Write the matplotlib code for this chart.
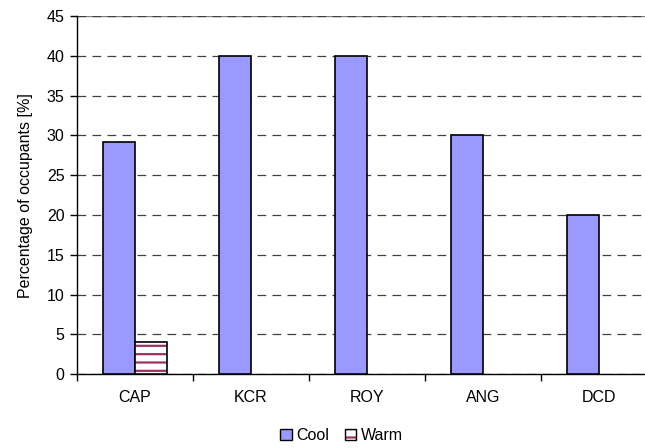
import matplotlib
matplotlib.use("Agg")
import matplotlib.pyplot as plt
import numpy as np

plt.rcParams['font.family'] = ['Liberation Sans', 'DejaVu Sans']
plt.rcParams['hatch.linewidth'] = 1.6

sites = ["CAP", "KCR", "ROY", "ANG", "DCD"]
cool = [29.2, 40, 40, 30, 20]
warm = [4.1, 0, 0, 0, 0]

fig = plt.figure(figsize=(6.45, 4.48), dpi=100)
ax = fig.add_axes([77/645, 1-374.3/448, 580/645, 358.3/448])

x = np.arange(len(sites))
w = 0.276
cool_bars = ax.bar(x - w/2, cool, w, color="#9999ff", edgecolor="black", linewidth=1.2, zorder=3)
# hatch takes the edge colour, so draw the hatch first and the black outline on top
hatched = ax.bar(x + w/2, warm, w, color="white", edgecolor="#993366", hatch="--",
                 linewidth=0, zorder=3)
outline = ax.bar(x + w/2, warm, w, fill=False, edgecolor="black", linewidth=1.2, zorder=4)
for hb, ob, v in zip(hatched, outline, warm):
    if v == 0:
        hb.set_visible(False)
        ob.set_visible(False)

ax.set_xlim(-0.5, 4.5)
ax.set_ylim(0, 45)
ax.set_yticks(range(0, 50, 5))
ax.set_xticks(np.arange(-0.5, 5.0, 1.0))
ax.set_xticklabels([])
ax.set_xticks(x, minor=True)
ax.set_xticklabels(sites, minor=True)
ax.tick_params(axis='x', which='minor', length=0, pad=11, labelsize=11.5)
ax.tick_params(axis='x', which='major', length=5, direction='out', width=1)
ax.tick_params(axis='y', length=5, direction='out', width=1, labelsize=11.5, pad=4)

ax.grid(axis='y', color='#404040', linestyle=(0, (7, 5)), linewidth=0.9, zorder=0)
ax.axhline(45, color='#808080', linewidth=1, zorder=1)
ax.spines['top'].set_visible(False)
ax.spines['right'].set_visible(False)
ax.spines['left'].set_linewidth(1)
ax.spines['bottom'].set_linewidth(1)

ax.set_ylabel("Percentage of occupants [%]", fontsize=11.5, labelpad=10)

h1 = plt.Rectangle((0, 0), 1, 1, facecolor="#9999ff", edgecolor="black")
h2a = plt.Rectangle((0, 0), 1, 1, facecolor="white", edgecolor="#993366", hatch="--", linewidth=0)
h2b = plt.Rectangle((0, 0), 1, 1, fill=False, edgecolor="black")
fig.legend([h1, (h2a, h2b)], ["Cool", "Warm"], loc='center', bbox_to_anchor=(0.53, 0.027),
           ncol=2, frameon=False, fontsize=11.5, handlelength=0.7, handleheight=0.7,
           handletextpad=0.3, columnspacing=1.0)

fig.savefig("out.png", dpi=100)
